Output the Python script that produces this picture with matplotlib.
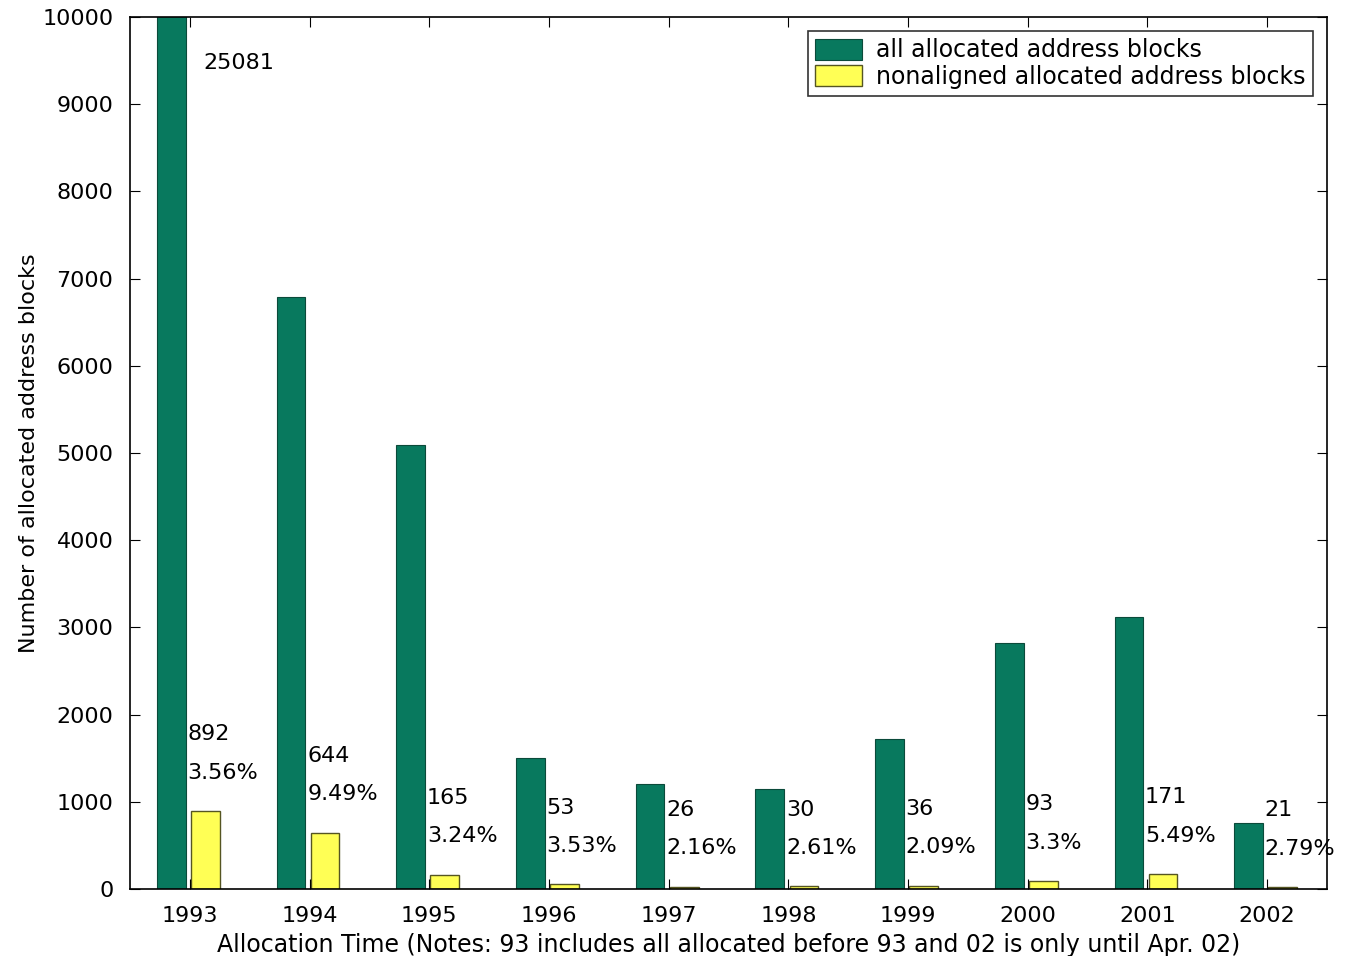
import numpy as np
import matplotlib
matplotlib.use('Agg')
import matplotlib.pyplot as plt

plt.rcParams['font.family'] = ['DejaVu Sans']

years = [1993, 1994, 1995, 1996, 1997, 1998, 1999, 2000, 2001, 2002]
all_blocks = [25081, 6786, 5093, 1501, 1204, 1149, 1722, 2818, 3115, 753]
nonaligned = [892, 644, 165, 53, 26, 30, 36, 93, 171, 21]
percents = ['3.56%', '9.49%', '3.24%', '3.53%', '2.16%', '2.61%', '2.09%', '3.3%', '5.49%', '2.79%']

x = np.array(years, dtype=float)
green = '#08795e'
yellow = '#ffff55'
fs = 16

fig = plt.figure(figsize=(13.48, 9.56), dpi=100)
ax = fig.add_axes([130 / 1348, 1 - 889 / 956, 1197 / 1348, 872 / 956])

ax.bar(x - 0.155, all_blocks, width=0.24, color=green, edgecolor='#0b4a3a', linewidth=0.8,
       label='all allocated address blocks')
ax.bar(x + 0.13, nonaligned, width=0.24, color=yellow, edgecolor='#555522', linewidth=1.0,
       label='nonaligned allocated address blocks')

# annotations: count and percentage above each yellow bar
for i in range(len(years)):
    if i == 0:
        ax.text(x[i] + 0.11, 9470, str(all_blocks[i]), fontsize=fs, va='center', ha='left')
    ax.text(x[i] - 0.02, nonaligned[i] + 880, str(nonaligned[i]), fontsize=fs, va='center', ha='left')
    ax.text(x[i] - 0.02, nonaligned[i] + 440, percents[i], fontsize=fs, va='center', ha='left')

ax.set_xlim(1992.5, 2002.5)
ax.set_ylim(0, 10000)
ax.set_xticks(years)
ax.set_xticklabels([str(y) for y in years])
ax.set_yticks(range(0, 10001, 1000))
ax.tick_params(direction='in', top=True, right=True, labelsize=fs, length=7)
ax.tick_params(axis='x', pad=12)
ax.tick_params(axis='y', pad=12)
for s in ax.spines.values():
    s.set_linewidth(1.2)

ax.set_xlabel('Allocation Time (Notes: 93 includes all allocated before 93 and 02 is only until Apr. 02)',
              fontsize=17, labelpad=5)
ax.set_ylabel('Number of allocated address blocks', fontsize=fs, labelpad=2)

leg = ax.legend(loc='upper right', fontsize=17, fancybox=False, edgecolor='black',
                borderaxespad=0.6, handlelength=2.0, handleheight=1.0, borderpad=0.3,
                labelspacing=0.1, handletextpad=0.6)
leg.get_frame().set_linewidth(1.2)

fig.savefig('out.png', dpi=100)
